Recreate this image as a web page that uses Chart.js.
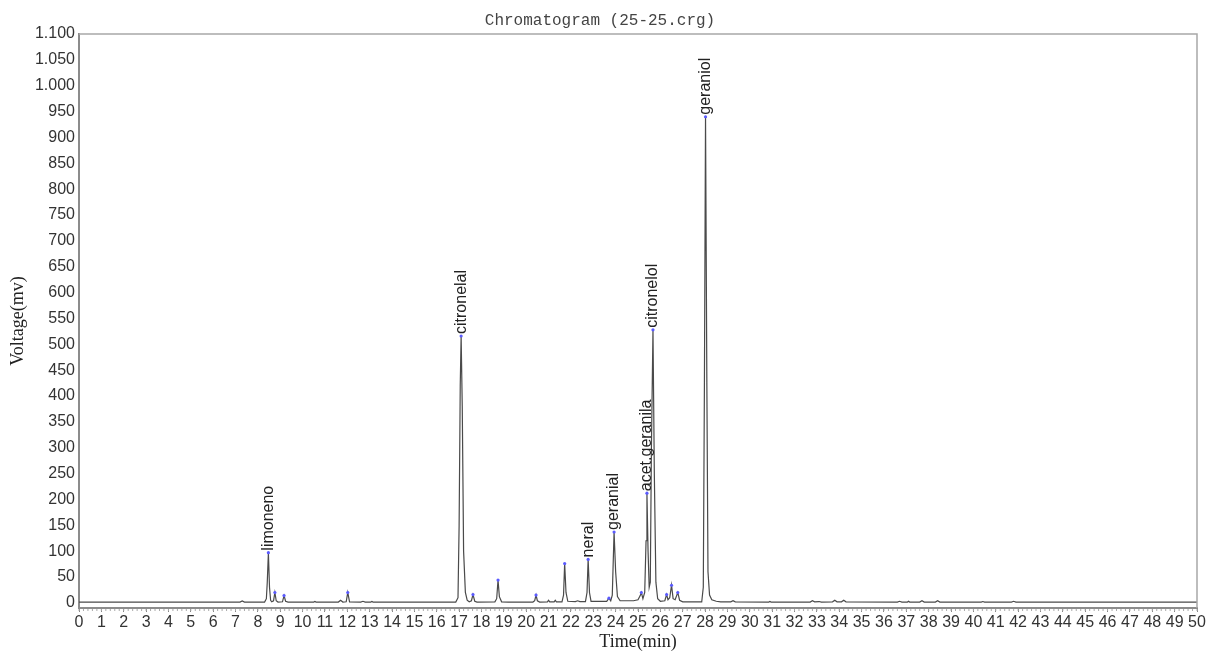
<!DOCTYPE html>
<html>
<head>
<meta charset="utf-8">
<script src="https://cdn.jsdelivr.net/npm/chart.js@4.4.1/dist/chart.umd.min.js"></script>
<style>
html,body{margin:0;padding:0;background:#fff;}
#wrap{width:1208px;height:651px;}
</style>
</head>
<body>
<div id="wrap"><canvas id="c" width="1208" height="651"></canvas></div>
<script>
// Retention time (min) and signal (mV)
const times = [0,7.2,7.3,7.4,
 8.3,8.38,8.42,8.47,8.52,8.57,8.62,8.7,8.76,8.82,8.9,9.1,9.17,9.24,9.35,
 10.5,10.55,10.6,11.6,11.7,11.8,11.95,12.02,12.1,12.6,12.7,12.8,13.05,13.1,13.15,
 16.85,16.95,17.0,17.05,17.09,17.14,17.2,17.28,17.36,17.45,17.55,17.62,17.7,17.8,
 18.6,18.68,18.74,18.8,18.9,19.2,20.3,20.38,20.44,20.5,20.6,20.95,21.0,21.05,21.25,21.3,21.35,
 21.6,21.67,21.72,21.78,21.86,22.2,22.3,22.4,22.65,22.72,22.77,22.83,22.9,23.6,23.7,23.78,23.85,23.93,24.0,24.08,24.2,24.8,25.0,25.1,25.15,25.22,
 25.3,25.36,25.4,25.45,25.5,25.55,25.6,25.67,25.73,25.8,25.88,26.0,26.2,26.28,26.34,26.42,26.5,26.57,26.66,26.78,26.86,27.0,
 27.85,27.92,27.97,28.02,28.08,28.13,28.2,28.3,28.5,28.7,29.15,29.25,29.35,30.85,30.9,30.95,
 32.7,32.8,32.9,33.1,33.2,33.7,33.8,33.9,34.1,34.2,34.3,36.6,36.7,36.8,37.05,37.1,37.15,37.6,37.7,37.8,38.3,38.4,38.5,40.35,40.42,40.5,41.7,41.8,41.9,50];
const volts = [1.5,1.5,3.5,1.5,
 1.5,8,40,97,30,5,2,4,20,4,1.5,2,14,3,1.5,
 1.5,2.5,1.5,1.5,5,1.5,2,20,2,1.5,3,1.5,1.5,2.5,1.5,
 1.5,10,150,420,516,380,100,20,5,2,4,16,3,1.5,
 2,8,44,12,2,1.5,1.5,4,15,4,1.5,2,5,2,2,5,2,
 2,15,76,20,3,2.5,4,2.5,2.5,20,84,20,3,3,9,4,15,137,60,12,4,4,6,14,20,8,
 20,120,212,100,30,40,300,528,250,40,8,3,4,16,6,10,34,8,6,20,5,2,
 2,30,420,940,420,60,15,6,3,2,2,4,2,1.5,2.5,1.5,
 1.5,4,2,2.5,1.5,2,5,2,2,5,2,1.5,3,1.5,1.5,3,1.5,1.5,4,1.5,1.5,4,1.5,1.5,2.5,1.5,1.5,3,1.5,1.5];

// Identified peaks
const peakNames = ["limoneno","citronelal","neral","geranial","acet.geranila","citronelol","geraniol"];
const peakTimes = [8.47,17.09,22.77,23.93,25.4,25.67,28.02];
const peakHeights = [97,516,84,137,212,528,940];

// Small unlabelled apex markers
const minorApexTimes = [8.76,9.17,12.02,17.62,18.74,20.44,21.72,23.7,25.15,26.28,26.5,26.78];
const minorApexHeights = [20,14,20,16,44,15,76,9,20,16,34,20];

// Axes
const yTickValues = [0,50,100,150,200,250,300,350,400,450,500,550,600,650,700,750,800,850,900,950,1000,1050,1100];
const xTickValues = [0,1,2,3,4,5,6,7,8,9,10,11,12,13,14,15,16,17,18,19,20,21,22,23,24,25,26,27,28,29,30,31,32,33,34,35,36,37,38,39,40,41,42,43,44,45,46,47,48,49,50];

const trace = times.map((t,i)=>({x:t,y:volts[i]}));
const apexes = peakTimes.map((t,i)=>({x:t,y:peakHeights[i]})).concat(minorApexTimes.map((t,i)=>({x:t,y:minorApexHeights[i]})));

const fmtY = v => v>=1000 ? (Math.floor(v/1000)+'.'+String(v%1000).padStart(3,'0')) : String(v);

const decor = {
  id:'decor',
  afterDatasetsDraw(chart){
    const {ctx, chartArea:a, scales:{x,y}} = chart;
    ctx.save();
    // top & right frame
    ctx.strokeStyle='#a8a8a8'; ctx.lineWidth=1.5;
    ctx.beginPath(); ctx.moveTo(a.left,a.top); ctx.lineTo(a.right,a.top); ctx.lineTo(a.right,a.bottom); ctx.stroke();
    // minor x ticks
    ctx.strokeStyle='#aaa'; ctx.lineWidth=1;
    ctx.beginPath();
    for(let i=0;i<=250;i++){ const px=x.getPixelForValue(i/5); ctx.moveTo(px,a.bottom+1); ctx.lineTo(px,a.bottom+3);} 
    ctx.stroke();
    // peak labels
    ctx.fillStyle='#222'; ctx.font='16px "Liberation Sans", Arial, sans-serif';
    ctx.textAlign='left'; ctx.textBaseline='middle';
    peakNames.forEach((n,i)=>{
      const px=x.getPixelForValue(peakTimes[i]); const py=y.getPixelForValue(peakHeights[i]);
      ctx.save(); ctx.translate(px,py-2); ctx.rotate(-Math.PI/2); ctx.fillText(n,0,0); ctx.restore();
    });
    // title
    ctx.fillStyle='#444'; ctx.font='16px "Liberation Mono", monospace'; ctx.textAlign='center'; ctx.textBaseline='middle';
    ctx.fillText('Chromatogram (25-25.crg)',600,21);
    ctx.restore();
  }
};

new Chart(document.getElementById('c'),{
  type:'line',
  data:{datasets:[
    {data:trace,borderColor:'#4a4a4a',borderWidth:1.2,pointRadius:0,tension:0,fill:false,order:2},
    {type:'scatter',data:apexes,pointRadius:1.6,pointBackgroundColor:'#5a5aff',pointBorderWidth:0,order:1}
  ]},
  options:{
    responsive:false,animation:false,devicePixelRatio:1,
    layout:{padding:{top:34,right:11,left:0,bottom:0}},
    plugins:{legend:{display:false},tooltip:{enabled:false}},
    scales:{
      x:{type:'linear',min:0,max:50,
        afterBuildTicks:s=>{s.ticks=xTickValues.map(v=>({value:v}));},
        afterFit:s=>{s.height=43;},
        grid:{drawOnChartArea:false,drawTicks:true,tickLength:4,color:'#888'},
        border:{color:'#8c8c8c',width:2},
        ticks:{autoSkip:false,maxRotation:0,padding:1,color:'#333',font:{family:'"Liberation Sans", Arial',size:16}},
        title:{display:true,text:'Time(min)',color:'#222',font:{family:'"Liberation Serif", serif',size:18},padding:{top:0,bottom:-2}}
      },
      y:{type:'linear',min:-10,max:1100,
        afterBuildTicks:s=>{s.ticks=yTickValues.map(v=>({value:v}));},
        afterFit:s=>{s.width=79;},
        grid:{drawOnChartArea:false,drawTicks:false},
        border:{color:'#8c8c8c',width:2},
        ticks:{padding:4,color:'#333',callback:v=>fmtY(v),font:{family:'"Liberation Sans", Arial',size:16}},
        title:{display:true,text:'Voltage(mv)',color:'#222',font:{family:'"Liberation Serif", serif',size:18},padding:{top:7,bottom:0}}
      }
    }
  },
  plugins:[decor]
});
</script>
</body>
</html>
